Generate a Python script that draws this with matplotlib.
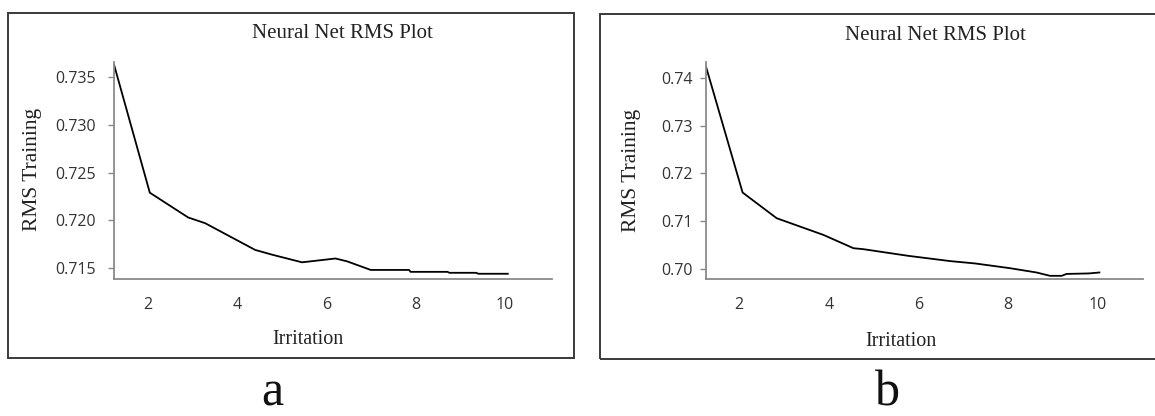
import matplotlib
matplotlib.use("Agg")
import matplotlib.pyplot as plt
from matplotlib.patches import Rectangle

# ---- data ----
iter_a = [1.24, 2.04, 2.90, 3.28, 4.40, 4.78, 5.45, 5.64, 6.20, 6.46, 6.99,
          7.85, 7.88, 8.71, 8.75, 9.35, 9.40, 10.06]
rms_a = [0.7363, 0.7229, 0.7203, 0.7197, 0.7169, 0.7164, 0.7156, 0.7157,
         0.7160, 0.7157, 0.7148, 0.7148, 0.7146, 0.7146, 0.7145, 0.7145,
         0.7144, 0.7144]

iter_b = [1.26, 2.08, 2.84, 3.88, 4.55, 4.77, 5.77, 6.70, 7.26, 8.04, 8.63,
          8.93, 9.19, 9.30, 9.79, 10.03]
rms_b = [0.7426, 0.7160, 0.7106, 0.7071, 0.7043, 0.7041, 0.7027, 0.7016,
         0.7011, 0.7001, 0.6992, 0.6985, 0.6985, 0.6989, 0.6990, 0.6992]

xticks = [2, 4, 6, 8, 10]
yticks_a = [0.715, 0.720, 0.725, 0.730, 0.735]
ytick_labels_a = ["0.715", "0.720", "0.725", "0.730", "0.735"]
yticks_b = [0.70, 0.71, 0.72, 0.73, 0.74]
ytick_labels_b = ["0.70", "0.71", "0.72", "0.73", "0.74"]

title = "Neural Net RMS Plot"
xlabel = "Irritation"
ylabel = "RMS Training"
panel_letters = ["a", "b"]

W, H = 1155, 416
fig = plt.figure(figsize=(W / 100, H / 100), dpi=100)
fig.patch.set_facecolor("white")

serif = "Liberation Serif"
sans = "Open Sans"


def px_axes(l, r, t, b):
    return fig.add_axes([l / W, 1 - b / H, (r - l) / W, (b - t) / H])


def style(ax, x, y, yt, ytl, xlim, ylim, ypad, title_xy, xlab_xy, ylab_xy):
    ax.plot(x, y, color="black", lw=1.3)
    ax.set_xlim(*xlim)
    ax.set_ylim(*ylim)
    for s in ["top", "right"]:
        ax.spines[s].set_visible(False)
    for s in ["left", "bottom"]:
        ax.spines[s].set_color("#8a8a8a")
        ax.spines[s].set_linewidth(1.3)
    ax.set_xticks(xticks)
    ax.set_xticklabels([str(v) for v in xticks])
    ax.set_yticks(yt)
    ax.set_yticklabels(ytl)
    ax.tick_params(axis="x", length=0, pad=13, labelsize=11.5,
                   labelcolor="#333333")
    ax.tick_params(axis="y", length=4, width=1, color="#8a8a8a", pad=ypad,
                   labelsize=11.5, labelcolor="#333333")
    for lab in ax.get_xticklabels() + ax.get_yticklabels():
        lab.set_fontfamily(sans)
    ax.set_title(title, fontfamily=serif, fontsize=15, x=title_xy[0],
                 y=title_xy[1], va="center", color="#222222", pad=0)
    ax.set_xlabel(xlabel, fontfamily=serif, fontsize=14.5, color="#222222")
    ax.xaxis.set_label_coords(*xlab_xy)
    ax.xaxis.label.set_va("center")
    ax.set_ylabel(ylabel, fontfamily=serif, fontsize=15.5, color="#222222")
    ax.yaxis.set_label_coords(*ylab_xy)
    ax.yaxis.label.set_va("center")
    ax.patch.set_alpha(0)


# panel a
ax_a = px_axes(114, 552, 62, 279)
style(ax_a, iter_a, rms_a, yticks_a, ytick_labels_a,
      (1.238, 11.05), (0.71385, 0.7366), 9,
      ((342 - 114) / 438, 1 + (62 - 34) / 217),
      ((308 - 114) / 438, -(340 - 279) / 217),
      ((32 - 114) / 438, 0.5 + (148.5 - 147) / 217))

# panel b
ax_b = px_axes(705.7, 1142.7, 62, 279.3)
style(ax_b, iter_b, rms_b, yticks_b, ytick_labels_b,
      (1.258, 10.995), (0.69777, 0.74342), 5,
      ((935 - 705.7) / 437, 1 + (62 - 36) / 217.3),
      ((901 - 705.7) / 437, -(342 - 279.3) / 217.3),
      ((632 - 705.7) / 437, 0.5))

# frames around panels
for (l, t, r, b) in [(8, 13, 574, 358), (600, 14, 1162, 359)]:
    fig.add_artist(Rectangle((l / W, 1 - b / H), (r - l) / W, (b - t) / H,
                             transform=fig.transFigure, fill=False,
                             edgecolor="#3a3a3a", lw=1.4, clip_on=False))

# panel letters
fig.text(272 / W, 1 - 405 / H, panel_letters[0], ha="center", va="baseline",
         fontfamily=serif, fontsize=36, color="#111111")
fig.text(887 / W, 1 - 405 / H, panel_letters[1], ha="center", va="baseline",
         fontfamily=serif, fontsize=36, color="#111111")

fig.savefig("out.png", dpi=100, facecolor="white")
